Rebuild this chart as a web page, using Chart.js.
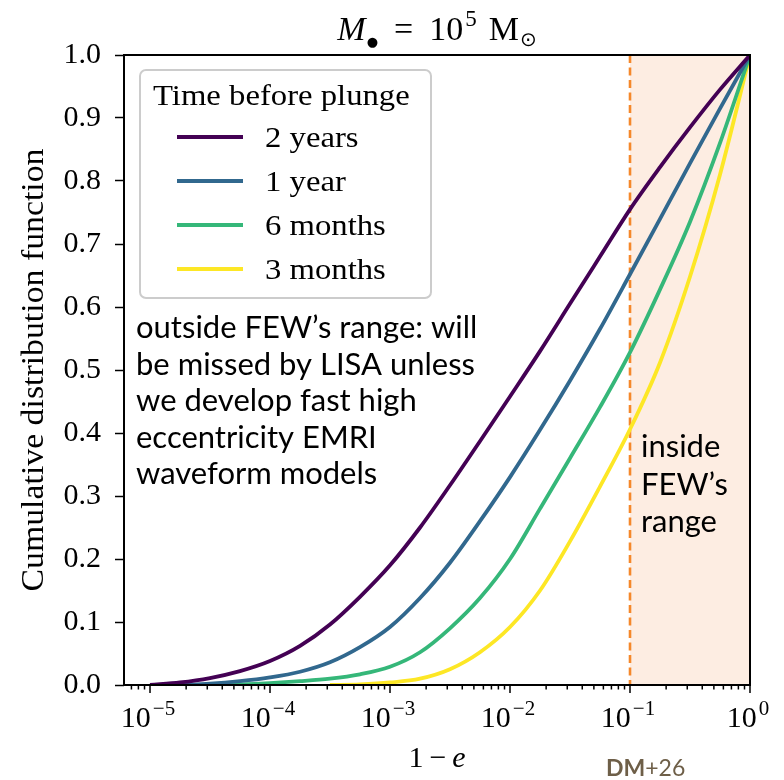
<!DOCTYPE html>
<html>
<head>
<meta charset="utf-8">
<script src="https://cdn.jsdelivr.net/npm/chart.js@4"></script>
<style>
  html, body { margin: 0; padding: 0; background: #fff; }
  #cdf { display: block; }
</style>
</head>
<body>
<canvas id="cdf" width="784" height="780"></canvas>
<script>
// 1 - e grid shared by all curves
var eccGrid = [1e-5, 1.78e-5, 3.16e-5, 5.62e-5, 1e-4, 1.78e-4, 3.16e-4, 5.62e-4,
    1e-3, 1.78e-3, 3.16e-3, 5.62e-3, 1e-2, 1.78e-2, 3.16e-2, 5.62e-2,
    0.1, 0.178, 0.316, 0.562, 1];

var seriesLabels = ['2 years', '1 year', '6 months', '3 months'];
var seriesColors = ['#440154', '#31688e', '#35b779', '#fde725'];

// cumulative distribution, null before a curve starts
var cdf2yr = [0.0, 0.004, 0.011, 0.022, 0.038, 0.062, 0.096, 0.14, 0.19, 0.25, 0.317,
    0.387, 0.458, 0.53, 0.605, 0.68, 0.755, 0.822, 0.885, 0.945, 1.0];
var cdf1yr = [null, 0.0, 0.002, 0.006, 0.012, 0.021, 0.036, 0.06, 0.092, 0.138, 0.194,
    0.26, 0.33, 0.405, 0.483, 0.565, 0.652, 0.74, 0.828, 0.915, 1.0];
var cdf6mo = [null, null, 0.0, 0.001, 0.003, 0.006, 0.01, 0.017, 0.029, 0.052, 0.09,
    0.138, 0.2, 0.28, 0.36, 0.441, 0.528, 0.628, 0.735, 0.86, 1.0];
var cdf3mo = [null, null, null, null, null, null, 0.0, 0.001, 0.004, 0.01, 0.025,
    0.052, 0.092, 0.15, 0.228, 0.315, 0.406, 0.512, 0.648, 0.81, 1.0];

var yTicks = [0, 0.1, 0.2, 0.3, 0.4, 0.5, 0.6, 0.7, 0.8, 0.9, 1.0];
var xMajorExp = [-5, -4, -3, -2, -1, 0];
var fewLimit = 0.1;

var xMin = 6.07e-6, xMax = 1;
var SERIF = '"Liberation Serif", "DejaVu Serif", serif';
var SANS = 'Lato, "Open Sans", sans-serif';
var SX = 1.09; // widen the narrow serif a little

function toPoints(ys) {
    var pts = [];
    ys.forEach(function (y, i) {
        if (y !== null) pts.push({ x: eccGrid[i], y: y });
    });
    return pts;
}

var allCdfs = [cdf2yr, cdf1yr, cdf6mo, cdf3mo];
var datasets = allCdfs.map(function (ys, i) {
    return {
        label: seriesLabels[i],
        data: toPoints(ys),
        borderColor: seriesColors[i],
        backgroundColor: seriesColors[i],
        borderWidth: 3.8,
        pointRadius: 0,
        showLine: true,
        fill: false,
        cubicInterpolationMode: 'monotone'
    };
});

// text widened by SX, anchored at its left edge
function wideText(ctx, text, x, y) {
    ctx.save();
    ctx.translate(x, y);
    ctx.scale(SX, 1);
    ctx.textAlign = 'left';
    ctx.fillText(text, 0, 0);
    ctx.restore();
}

// draws "base^exp" centred on cx
function drawPow(ctx, base, exp, cx, y) {
    var big = '30px ' + SERIF, small = '21px ' + SERIF;
    ctx.font = big;
    var wb = ctx.measureText(base).width;
    ctx.font = small;
    var we = ctx.measureText(exp).width + 2;
    var x0 = cx - (wb + we) / 2;
    ctx.textAlign = 'left';
    ctx.font = big;
    ctx.fillText(base, x0, y);
    ctx.font = small;
    ctx.fillText(exp, x0 + wb + 2, y - 12);
}

// a row of differently styled pieces, centred on cx; pre/post are extra spacing
function drawRuns(ctx, runs, cx, y) {
    var total = 0;
    runs.forEach(function (r) {
        ctx.font = r.font;
        r.w = ctx.measureText(r.t).width;
        total += (r.pre || 0) + r.w + (r.post || 0);
    });
    var x = cx - total / 2;
    ctx.textAlign = 'left';
    runs.forEach(function (r) {
        ctx.font = r.font;
        x += r.pre || 0;
        ctx.fillText(r.t, x, y + (r.dy || 0));
        x += r.w + (r.post || 0);
    });
}

var decorations = {
    id: 'decorations',
    beforeDatasetsDraw: function (chart) {
        var ctx = chart.ctx, a = chart.chartArea, xs = chart.scales.x;
        var xf = xs.getPixelForValue(fewLimit);
        ctx.save();
        ctx.fillStyle = '#fdede2';
        ctx.fillRect(xf, a.top, a.right - xf, a.bottom - a.top);
        ctx.strokeStyle = '#f5882a';
        ctx.lineWidth = 2.6;
        ctx.setLineDash([8, 4.5]);
        ctx.beginPath();
        ctx.moveTo(xf, a.top);
        ctx.lineTo(xf, a.bottom);
        ctx.stroke();
        ctx.restore();
    },
    afterDraw: function (chart) {
        var ctx = chart.ctx, a = chart.chartArea, xs = chart.scales.x;
        ctx.save();
        ctx.fillStyle = '#000';
        ctx.strokeStyle = '#000';
        ctx.textBaseline = 'alphabetic';

        // frame
        ctx.lineWidth = 2;
        ctx.strokeRect(a.left, a.top, a.right - a.left, a.bottom - a.top);

        // x ticks, major and minor
        ctx.lineWidth = 1.5;
        ctx.beginPath();
        for (var e = -6; e <= 0; e++) {
            for (var k = 1; k <= 9; k++) {
                var v = k * Math.pow(10, e);
                if (v < xMin || v > xMax * 1.0001) continue;
                var px = xs.getPixelForValue(v);
                ctx.moveTo(px, a.bottom);
                ctx.lineTo(px, a.bottom + (k === 1 ? 8 : 4.5));
            }
        }
        ctx.stroke();
        xMajorExp.forEach(function (e) {
            var px = xs.getPixelForValue(Math.pow(10, e));
            drawPow(ctx, '10', e === 0 ? '0' : '\u2212' + Math.abs(e), px - 2, 727);
        });

        // axis titles
        drawRuns(ctx, [
            { t: '1', font: '30px ' + SERIF },
            { t: '\u2212', font: '30px ' + SERIF, pre: 6, post: 6 },
            { t: 'e', font: 'italic 30px ' + SERIF }
        ], (a.left + a.right) / 2, 767);

        ctx.save();
        ctx.translate(43, (a.top + a.bottom) / 2);
        ctx.rotate(-Math.PI / 2);
        ctx.font = '31px ' + SERIF;
        var tw = ctx.measureText('Cumulative distribution function').width * SX;
        wideText(ctx, 'Cumulative distribution function', -tw / 2, 0);
        ctx.restore();

        // title
        drawRuns(ctx, [
            { t: 'M', font: 'italic 34px ' + SERIF },
            { t: '\u25CF', font: '13px "DejaVu Sans", sans-serif', dy: 6, pre: 1 },
            { t: '=', font: '34px ' + SERIF, pre: 16, post: 16 },
            { t: '10', font: '34px ' + SERIF },
            { t: '5', font: '23px ' + SERIF, dy: -14, pre: 2 },
            { t: 'M', font: '34px ' + SERIF, pre: 12 },
            { t: '\u2299', font: '20px "DejaVu Sans", sans-serif', dy: 6, pre: 1 }
        ], (a.left + a.right) / 2, 40);

        // legend
        var lx = 140, ly = 70, lw = 291, lh = 228;
        ctx.fillStyle = 'rgba(255,255,255,0.85)';
        ctx.strokeStyle = '#cccccc';
        ctx.lineWidth = 2;
        ctx.beginPath();
        ctx.roundRect(lx, ly, lw, lh, 6);
        ctx.fill();
        ctx.stroke();
        ctx.fillStyle = '#000';
        ctx.font = '30px ' + SERIF;
        wideText(ctx, 'Time before plunge', 153, 105);
        chart.data.datasets.forEach(function (ds, i) {
            var yy = 137 + i * 44;
            ctx.strokeStyle = ds.borderColor;
            ctx.lineWidth = 3.8;
            ctx.beginPath();
            ctx.moveTo(177, yy);
            ctx.lineTo(243, yy);
            ctx.stroke();
            ctx.fillStyle = '#000';
            ctx.font = '30px ' + SERIF;
            wideText(ctx, ds.label, 265, yy + 10);
        });

        // notes
        ctx.font = '31px ' + SANS;
        ctx.textAlign = 'left';
        var outside = ['outside FEW\u2019s range: will', 'be missed by LISA unless',
            'we develop fast high', 'eccentricity EMRI', 'waveform models'];
        outside.forEach(function (line, i) {
            ctx.fillText(line, 136, 338 + i * 36.6);
        });
        var inside = ['inside', 'FEW\u2019s', 'range'];
        inside.forEach(function (line, i) {
            ctx.fillText(line, 641, 457 + i * 37.5);
        });

        // credit
        ctx.fillStyle = '#6e5f48';
        ctx.font = 'bold 23px ' + SANS;
        ctx.fillText('DM', 606, 776);
        var wdm = ctx.measureText('DM').width;
        ctx.font = '23px ' + SANS;
        ctx.fillText('+26', 606 + wdm, 776);
        ctx.restore();
    }
};

var chart = new Chart(document.getElementById('cdf').getContext('2d'), {
    type: 'scatter',
    data: { datasets: datasets },
    options: {
        responsive: false,
        animation: false,
        devicePixelRatio: 1,
        layout: { padding: { top: 55, right: 34, bottom: 0, left: 0 } },
        plugins: {
            legend: { display: false },
            title: { display: false },
            tooltip: { enabled: false }
        },
        scales: {
            x: {
                type: 'logarithmic',
                min: xMin,
                max: xMax,
                ticks: { display: false },
                grid: { display: false },
                border: { display: false },
                afterFit: function (s) { s.height = 95; }
            },
            y: {
                min: 0,
                max: 1,
                afterBuildTicks: function (s) {
                    s.ticks = yTicks.map(function (v) { return { value: v }; });
                },
                ticks: {
                    color: '#000',
                    padding: 14,
                    font: { family: SERIF, size: 30 },
                    callback: function (v) { return Number(v).toFixed(1); }
                },
                grid: {
                    drawOnChartArea: false,
                    drawTicks: true,
                    tickLength: 9,
                    tickColor: '#000',
                    tickWidth: 1.5
                },
                border: { display: false },
                afterFit: function (s) { s.width = 124; }
            }
        }
    },
    plugins: [decorations]
});
</script>
</body>
</html>
